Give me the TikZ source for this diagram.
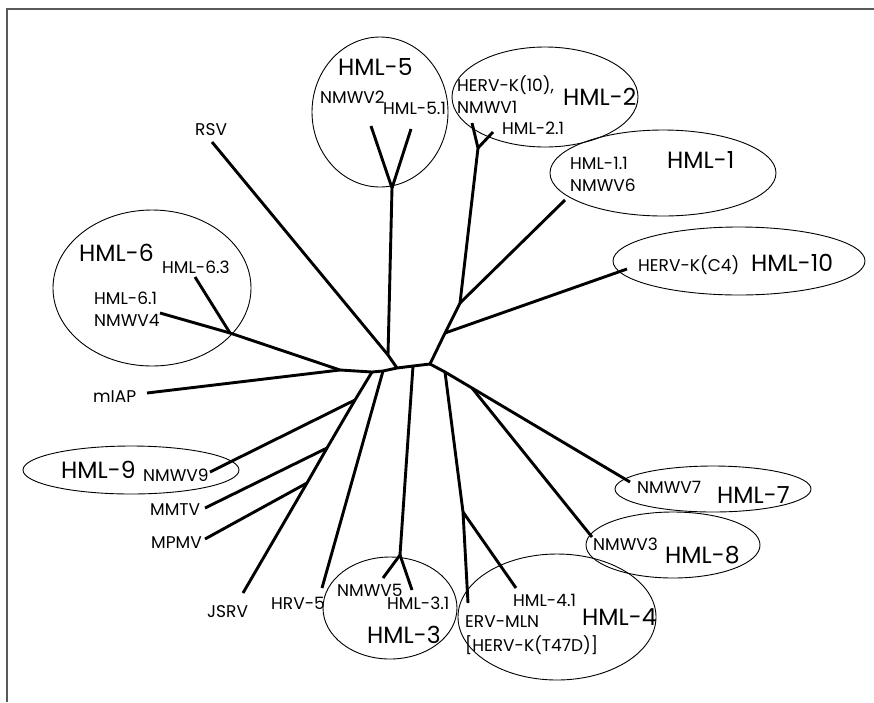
\documentclass[tikz,border=0pt]{standalone}
\usepackage{fontspec}
\setmainfont{Poppins}
\begin{document}
\begin{tikzpicture}[x=1pt,y=-1pt,
  branch/.style={line width=2.9pt, line join=round},
  grp/.style={line width=0.9pt},
  lab/.style={inner sep=0pt, anchor=west, font=\fontsize{17}{18}\selectfont},
  big/.style={inner sep=0pt, anchor=west, font=\fontsize{23.5}{24}\selectfont},
  frame/.style={line width=2pt, draw=black!65}]
\useasboundingbox (0,0) rectangle (874,702);
% frame (top and left edges visible)
\coordinate (fa) at (7,702);
\coordinate (fb) at (7,9);
\coordinate (fc) at (874,9);
\draw[frame] (fa) -- (fb) -- (fc);

% group ellipses
\draw[grp] (380,112) ellipse [x radius=68, y radius=75];
\draw[grp] (545,97) ellipse [x radius=93, y radius=50];
\draw[grp] (663,173) ellipse [x radius=113, y radius=43];
\draw[grp] (739,261) ellipse [x radius=126, y radius=34];
\draw[grp] (152,288) ellipse [x radius=99, y radius=78];
\draw[grp] (131,470) ellipse [x radius=108, y radius=24];
\draw[grp] (390,608) ellipse [x radius=67, y radius=51];
\draw[grp] (713,489) ellipse [x radius=98, y radius=23];
\draw[grp] (673,545) ellipse [x radius=87, y radius=33];
\draw[grp] (557,617) ellipse [x radius=99, y radius=63];

% tree coordinates
\coordinate (c1) at (340,370);
\coordinate (c2) at (372,372);
\coordinate (h5b) at (383,371);
\coordinate (c3) at (397,368);
\coordinate (h3b) at (413,366);
\coordinate (c4) at (430,364);
\coordinate (c5) at (445,333);
\coordinate (c6) at (460,303);
\coordinate (c7) at (478,148);
\coordinate (t2) at (472,123);
\coordinate (t21) at (493,132);
\coordinate (t10) at (627,269);
\coordinate (t1) at (565,200);
\coordinate (h4b) at (445,372);
\coordinate (h8b) at (472,388);
\coordinate (t7) at (630,482);
\coordinate (t8) at (592,537);
\coordinate (h4j) at (463,512);
\coordinate (terv) at (468,603);
\coordinate (t41) at (516,588);
\coordinate (h5j) at (388,355);
\coordinate (trsv) at (212,142);
\coordinate (h5t) at (392,188);
\coordinate (tnm2) at (371,126);
\coordinate (t51) at (411,129);
\coordinate (h6j) at (230,333);
\coordinate (t63) at (195,277);
\coordinate (tnm4) at (160,313);
\coordinate (tmiap) at (147,393);
\coordinate (g1) at (355,400);
\coordinate (tnm9) at (210,472);
\coordinate (g2) at (327,448);
\coordinate (tmmtv) at (205,508);
\coordinate (g3) at (307,483);
\coordinate (tmpmv) at (205,539);
\coordinate (tjsrv) at (243,593);
\coordinate (thrv) at (322,588);
\coordinate (h3j) at (400,555);
\coordinate (tnm5) at (383,578);
\coordinate (t31) at (412,590);

% branches
\draw[branch] (c1) -- (c2) -- (h5b) -- (c3) -- (h3b) -- (c4);
\draw[branch] (c4) -- (c5) -- (c6) -- (c7) -- (t2);
\draw[branch] (c7) -- (t21);
\draw[branch] (c5) -- (t10);
\draw[branch] (c6) -- (t1);
\draw[branch] (c4) -- (h4b) -- (h8b) -- (t7);
\draw[branch] (h8b) -- (t8);
\draw[branch] (h4b) -- (h4j) -- (terv);
\draw[branch] (h4j) -- (t41);
\draw[branch] (c3) -- (h5j) -- (trsv);
\draw[branch] (h5j) -- (h5t) -- (tnm2);
\draw[branch] (h5t) -- (t51);
\draw[branch] (c1) -- (h6j) -- (t63);
\draw[branch] (h6j) -- (tnm4);
\draw[branch] (c1) -- (tmiap);
\draw[branch] (c2) -- (g1) -- (tnm9);
\draw[branch] (g1) -- (g2) -- (tmmtv);
\draw[branch] (g2) -- (g3) -- (tmpmv);
\draw[branch] (g3) -- (tjsrv);
\draw[branch] (h5b) -- (thrv);
\draw[branch] (h3b) -- (h3j) -- (tnm5);
\draw[branch] (h3j) -- (t31);

% labels
\node[lab] (lrsv) at (195,130) {RSV};
\node[big] (g5) at (338,67) {HML-5};
\node[lab] (lnm2) at (320,97) {NMWV2};
\node[lab] (l51) at (383,108) {HML-5.1};
\node[lab] (lk10) at (457,85) {HERV-K(10),};
\node[lab] (lnm1) at (457,107) {NMWV1};
\node[big] (g2l) at (563,97) {HML-2};
\node[lab] (l21) at (502,128) {HML-2.1};
\node[lab] (l11) at (570,163) {HML-1.1};
\node[lab] (lnm6) at (570,185) {NMWV6};
\node[big] (g1l) at (667,160) {HML-1};
\node[lab] (lc4) at (638,265) {HERV-K(C4)};
\node[big] (g10) at (751,263) {HML-10};
\node[big] (g6) at (79,253) {HML-6};
\node[lab] (l63) at (162,267) {HML-6.3};
\node[lab] (l61) at (94,298) {HML-6.1};
\node[lab] (lnm4) at (94,320) {NMWV4};
\node[lab] (lmiap) at (93,397) {mIAP};
\node[big] (g9) at (61,470) {HML-9};
\node[lab] (lnm9) at (143,475) {NMWV9};
\node[lab] (lmmtv) at (150,510) {MMTV};
\node[lab] (lmpmv) at (151,543) {MPMV};
\node[lab] (ljsrv) at (207,612) {JSRV};
\node[lab] (lhrv) at (271,603) {HRV-5};
\node[lab] (lnm5) at (337,590) {NMWV5};
\node[lab] (l31) at (387,603) {HML-3.1};
\node[big] (g3l) at (367,635) {HML-3};
\node[lab] (lnm7) at (637,487) {NMWV7};
\node[big] (g7) at (717,495) {HML-7};
\node[lab] (lnm3) at (593,544) {NMWV3};
\node[big] (g8) at (665,555) {HML-8};
\node[lab] (l41) at (513,600) {HML-4.1};
\node[big] (g4) at (582,617) {HML-4};
\node[lab] (lerv) at (465,622) {ERV-MLN};
\node[lab] (lt47) at (465,645) {[HERV-K(T47D)]};
\end{tikzpicture}
\end{document}
